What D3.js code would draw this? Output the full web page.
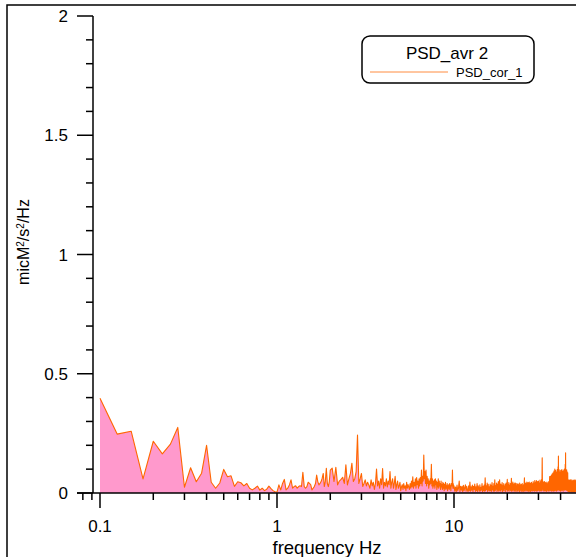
<!DOCTYPE html>
<html><head><meta charset="utf-8">
<script src="https://cdn.jsdelivr.net/npm/d3@7"></script>
<style>html,body{margin:0;padding:0;background:#fff;overflow:hidden}svg{display:block;font-family:"Liberation Sans",Arial,sans-serif}</style>
</head><body>
<script>
// ---- data (values in units of 0.001 micM^2/s^2/Hz) ----
const seg1Start = 0.1, seg1Step = 0.025;
const seg1Values = [397,247,259,59,217,164,205,275,24,106,47,83,200,45,20,42,99,68,72,28,
47,43,30,40,20,13,20,29,12,20,10,16,29,18,10,5,4,34,13,40,
57,13,20,34,55,20,27,30,20,27,30,27,87,27,20,27,45,40,35,13,
20,27,40,75,48,34,40,48,62,82,27,48,104,40,27,48];
const seg2Start = 2.0, seg2Step = 0.05;
const seg2Values = [96,104,48,108,34,50,57,66,40,118,34,60,82,125,48,60,90,243,40,60,
82,27,40,55,30,45,34,20,55,30,45,15,40,100,30,50,20,60,35,103,
20,45,30,60,25,50,35,90,20,45,60,20,40,70,15,35,50,20,30,45,
10,25,35,15,40,20,30,10,45,20,35,25,15,40,20,50,25,68,20,45,
30,60,20,65,35,50,20,60,30,65,40,96,30,70,50,159,60,90,40,96,
30,70,40,60,20,50,35,60,40,120,30,60,20,50,30,55,20,60,35,50,
15,45,25,60,20,50,30,40,15,50,25,35,15,45,20,40,10,35,20,45,
15,30,20,40,10,30,20,35,15,40,20,30,10,40,30,30,96,20,40,20];
const seg3Start = 10.0, seg3Step = 0.1;
const seg3Values = [
30,8,25,5,33,10,20,50,6,28, 12,28,5,32,10,22,34,8,28,12,
6,30,10,46,8,26,12,33,5,28, 15,38,7,26,10,40,6,30,18,8,
34,9,24,12,40,5,28,10,33,8, 64,10,30,15,42,6,36,12,26,9,
38,10,32,7,44,14,28,8,40,8, 55,10,30,16,42,6,36,12,48,8,
28,55,10,38,8,34,15,44,5,30, 12,40,9,28,18,36,6,42,14,26,
57,8,34,12,44,8,30,16,40,10, 28,62,7,38,12,46,9,33,15,42,
8,36,12,42,6,28,16,40,8,34, 10,38,14,30,5,42,9,26,18,36,
7,33,12,40,8,28,15,34,6,38, 64,10,36,16,42,8,32,14,46,9,
38,12,44,7,34,18,46,8,36,12, 42,6,38,15,45,10,33,16,40,8,
48,11,36,20,43,8,52,13,38,10, 46,16,52,8,40,22,48,9,44,15,
50,12,43,20,38,8,54,15,42,10, 48,18,56,9,45,148,26,50,12,43,
16,46,8,40,22,48,10,38,15,44, 9,42,18,36,7,46,13,40,20,38,
10,44,16,48,8,42,22,69,12,46, 10,70,12,56,15,75,8,62,18,80,
10,68,20,85,8,72,15,92,10,66, 20,100,9,78,18,95,12,70,22,88,
8,75,20,98,12,80,22,110,15,155, 18,92,10,97,22,78,12,88,20,70,
8,95,18,80,10,97,15,75,22,90, 12,85,20,97,8,80,25,92,15,70,
20,100,12,85,25,120,15,169,20,95, 12,80,22,97,15,90,10,75,18,85,
8,55,15,50,6,48,12,55,5,45, 10,52,5,48,15,55,8,42,12,50,
5,46,12,55,8,40,5,50,14,45, 6,52,12,44,5,48,15,55,9,40,
5,50,12,45,8,54,10,42,6,48, 30];
const xMajorTicks = [0.1, 1, 10];
const xMinorTicks = [0.08,0.09,0.2,0.3,0.4,0.5,0.6,0.7,0.8,0.9,2,3,4,5,6,7,8,9,20,30,40];
const yMajorTicks = [0, 0.5, 1, 1.5, 2];
const yMinorTicks = [0.1,0.2,0.3,0.4,0.6,0.7,0.8,0.9,1.1,1.2,1.3,1.4,1.6,1.7,1.8,1.9];
const legendTitle = "PSD_avr 2";
const seriesName = "PSD_cor_1";

// ---- build table ----
const data = [];
[[seg1Start,seg1Step,seg1Values],[seg2Start,seg2Step,seg2Values],[seg3Start,seg3Step,seg3Values]]
  .forEach(([s,st,vals]) => vals.forEach((v,i) => data.push({f: +(s + i*st).toFixed(4), v: v/1000})));

const W = 576, H = 557;
const svg = d3.select("body").append("svg").attr("width", W).attr("height", H);

// outer frame
svg.append("rect").attr("x",7).attr("y",5).attr("width",700).attr("height",700)
  .attr("fill","none").attr("stroke","#000").attr("stroke-width",1.5);

const x = d3.scaleLog().domain([0.1, 10]).range([100, 454]);
const xAx = x.copy().domain([x.invert(77), x.invert(W)]).range([77, W]);
const y = d3.scaleLinear().domain([0, 2]).range([493, 16]);

// data area + line
const area = d3.area().x(d => x(d.f)).y0(y(0)).y1(d => y(d.v));
const line = d3.line().x(d => x(d.f)).y(d => y(d.v));
svg.append("path").datum(data).attr("d", area).attr("fill", "#ff99cc");
svg.append("path").datum(data).attr("d", line).attr("fill", "none")
  .attr("stroke", "#ff6600").attr("stroke-width", 1.1).attr("stroke-linejoin","round");

// axes
const axisG = svg.append("g").attr("stroke","#000").attr("stroke-width",1.5);
// y axis
axisG.append("line").attr("x1",93).attr("x2",93).attr("y1",y(2)).attr("y2",y(0));
yMajorTicks.forEach(t => axisG.append("line").attr("x1",77).attr("x2",93).attr("y1",y(t)).attr("y2",y(t)));
yMinorTicks.forEach(t => axisG.append("line").attr("x1",86).attr("x2",93).attr("y1",y(t)).attr("y2",y(t)));
// x axis
axisG.append("line").attr("x1",xAx.range()[0]).attr("x2",W).attr("y1",493).attr("y2",493);
xMajorTicks.forEach(t => axisG.append("line").attr("x1",x(t)).attr("x2",x(t)).attr("y1",493).attr("y2",508));
xMinorTicks.forEach(t => axisG.append("line").attr("x1",x(t)).attr("x2",x(t)).attr("y1",493).attr("y2",500));

const fmt = d => String(d);
svg.append("g").selectAll("text").data(yMajorTicks).join("text")
  .attr("x",68).attr("y",d => y(d)+6).attr("text-anchor","end").attr("font-size",17).text(fmt);
svg.append("g").selectAll("text").data(xMajorTicks).join("text")
  .attr("x",d => x(d)).attr("y",532).attr("text-anchor","middle").attr("font-size",17).text(fmt);

// axis titles
svg.append("text").attr("x",327).attr("y",554).attr("text-anchor","middle").attr("font-size",18.5)
  .text("frequency Hz");
const yt = svg.append("text").attr("transform","translate(29,242) rotate(-90)")
  .attr("text-anchor","middle").attr("font-size",16);
yt.append("tspan").text("micM");
yt.append("tspan").attr("baseline-shift","super").attr("font-size",10).text("2");
yt.append("tspan").text("/s");
yt.append("tspan").attr("baseline-shift","super").attr("font-size",10).text("2");
yt.append("tspan").text("/Hz");

// legend
const lg = svg.append("g");
lg.append("rect").attr("x",362).attr("y",36).attr("width",172).attr("height",47).attr("rx",8)
  .attr("fill","#fff").attr("stroke","#000").attr("stroke-width",1.5);
lg.append("text").attr("x",447).attr("y",59).attr("text-anchor","middle").attr("font-size",17).text(legendTitle);
lg.append("line").attr("x1",370).attr("x2",448).attr("y1",72).attr("y2",72)
  .attr("stroke","#ff6600").attr("stroke-opacity",0.75).attr("stroke-width",1);
lg.append("text").attr("x",456).attr("y",76.5).attr("font-size",13).text(seriesName);
</script>
</body></html>
